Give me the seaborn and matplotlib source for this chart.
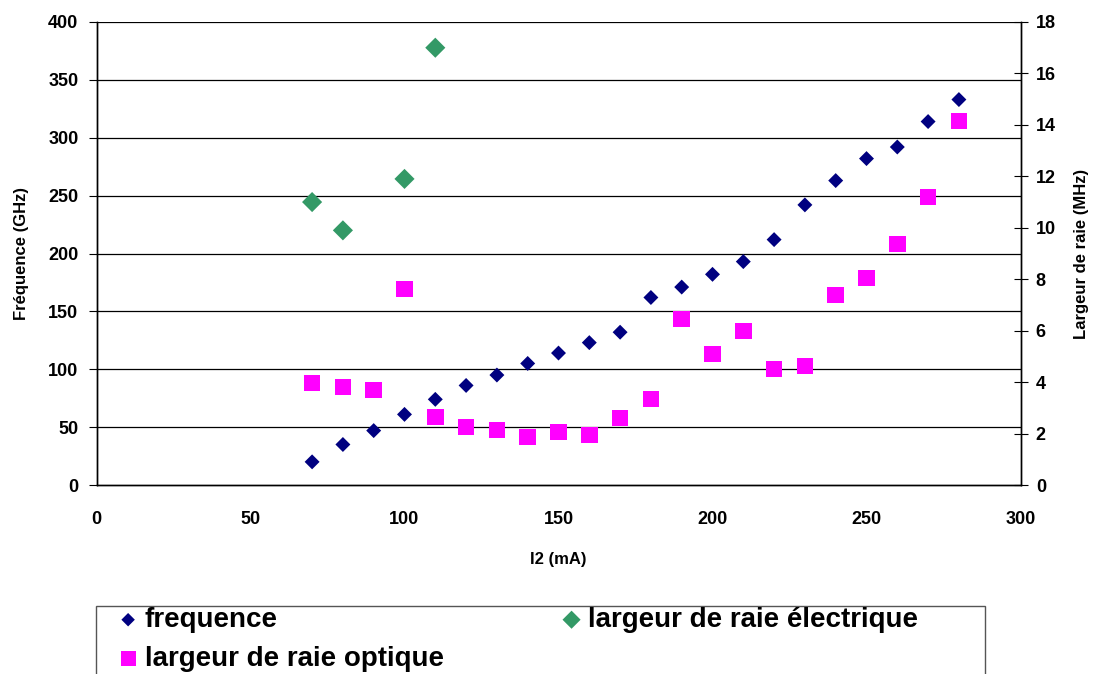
"""
Frequence et largeur de raie en fonction de I2.
"""
import numpy as np
import pandas as pd
import matplotlib
matplotlib.use('Agg')
import matplotlib.pyplot as plt
from matplotlib.patches import Rectangle
import seaborn as sns

# courant I2 (mA)
i2_freq = [70, 80, 90, 100, 110, 120, 130, 140, 150, 160, 170,
           180, 190, 200, 210, 220, 230, 240, 250, 260, 270, 280]
frequence = [20, 35, 47, 61, 74, 86, 95, 105, 114, 123, 132,
             162, 171, 182, 193, 212, 242, 263, 282, 292, 314, 333]

i2_elec = [70, 80, 100, 110]
largeur_elec = [11.0, 9.9, 11.9, 17.0]

i2_opt = i2_freq
largeur_opt = [3.97, 3.81, 3.69, 7.62, 2.64, 2.26, 2.14, 1.87, 2.06, 1.94, 2.6,
               3.34, 6.45, 5.09, 5.99, 4.51, 4.63, 7.39, 8.05, 9.37, 11.2, 14.15]

left_ticks = list(range(0, 401, 50))
right_ticks = list(range(0, 19, 2))
x_ticks = list(range(0, 301, 50))

sns.set_style("white")
plt.rcParams['font.family'] = ['Liberation Sans', 'DejaVu Sans']
plt.rcParams['font.weight'] = 'bold'
for key in ('text.color', 'axes.labelcolor', 'xtick.color', 'ytick.color'):
    plt.rcParams[key] = 'black'

W, H = 1094, 674
fig = plt.figure(figsize=(W / 100, H / 100), dpi=100)
ax = fig.add_axes([96.5 / W, 1 - 485 / H, (1020.5 - 96.5) / W, (485 - 22) / H])
ax2 = ax.twinx()

df_f = pd.DataFrame({'I2': i2_freq, 'val': frequence})
df_e = pd.DataFrame({'I2': i2_elec, 'val': largeur_elec})
df_o = pd.DataFrame({'I2': i2_opt, 'val': largeur_opt})

for y in left_ticks[1:]:
    ax.axhline(y, color='black', lw=0.9, zorder=0)

sns.scatterplot(data=df_f, x='I2', y='val', ax=ax, marker='D', s=58,
                color='#000080', edgecolor='none', label='frequence', legend=False)
sns.scatterplot(data=df_e, x='I2', y='val', ax=ax2, marker='D', s=105,
                color='#339966', edgecolor='none', label='largeur de raie électrique', legend=False)
sns.scatterplot(data=df_o, x='I2', y='val', ax=ax2, marker='s', s=140,
                color='#FF00FF', edgecolor='none', label='largeur de raie optique', legend=False)

ax.set_xlim(0, 300)
ax.set_ylim(0, 400)
ax2.set_ylim(0, 18)
ax.set_xticks(x_ticks)
ax.set_yticks(left_ticks)
ax2.set_yticks(right_ticks)

ax.set_xlabel('I2 (mA)', fontsize=12, fontweight='bold', labelpad=17)
ax.set_ylabel('Fréquence (GHz)', fontsize=12, fontweight='bold', labelpad=14)
ax2.set_ylabel('Largeur de raie (MHz)', fontsize=12, fontweight='bold', labelpad=13)

for a in (ax, ax2):
    a.spines['top'].set_visible(False)
    for side in ('left', 'right', 'bottom'):
        a.spines[side].set_color('black')
        a.spines[side].set_linewidth(1.0)
ax.tick_params(axis='y', direction='out', length=6, width=0.8, pad=7, labelsize=13)
ax2.tick_params(axis='y', direction='inout', length=10, width=0.8, pad=6, labelsize=13)
ax.tick_params(axis='x', direction='out', length=6, width=0.8, pad=13, labelsize=13)
for lab in ax.get_xticklabels() + ax.get_yticklabels() + ax2.get_yticklabels():
    lab.set_fontweight('bold')

h1, l1 = ax.get_legend_handles_labels()
h2, l2 = ax2.get_legend_handles_labels()
handles = [h1[0], h2[1], h2[0]]
labels = [l1[0], l2[1], l2[0]]
leg = fig.legend(handles, labels, loc='upper left', ncol=2,
                 bbox_to_anchor=(117 / W, 1 - 607 / H),
                 bbox_transform=fig.transFigure,
                 prop={'size': 20, 'weight': 'bold'}, frameon=False,
                 handletextpad=0.2, borderpad=0, labelspacing=0.45,
                 handlelength=0.8, markerscale=0.9, borderaxespad=0,
                 columnspacing=4.2)

# cadre de la legende (coupe en bas comme dans l'original)
fig.patches.append(Rectangle((96 / W, -0.05), (985 - 96) / W, 0.05 + (674 - 606) / H,
                             transform=fig.transFigure, fill=False,
                             edgecolor='#555555', linewidth=1.0))

fig.savefig('out.png', dpi=100)
plt.close(fig)
